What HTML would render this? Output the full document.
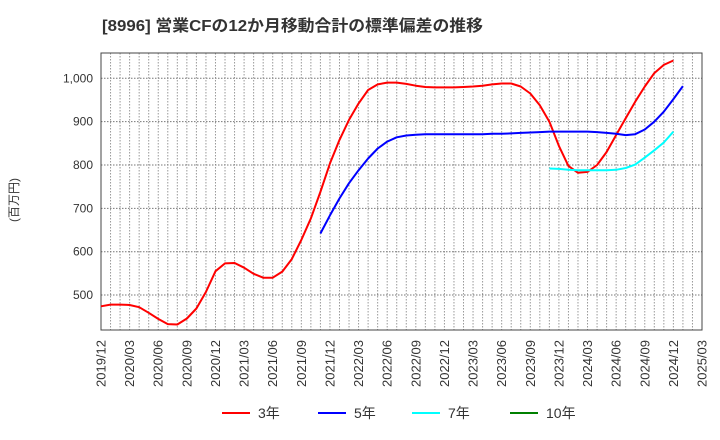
<!DOCTYPE html>
<html><head><meta charset="utf-8"><style>
body{margin:0;background:#fff;}
svg{display:block;font-family:"Liberation Sans","Noto Sans CJK JP",sans-serif;}
</style></head><body>
<svg id="chart" width="720" height="440">
<text x="102" y="31" font-size="16" font-weight="bold" fill="#333" textLength="381" lengthAdjust="spacingAndGlyphs">[8996]  営業CFの12か月移動合計の標準偏差の推移</text>
<text transform="translate(18,200) rotate(-90)" text-anchor="middle" font-size="12" fill="#333">(百万円)</text>
<g id="grid"></g><g id="axes"></g><g id="series"></g><g id="legend"></g>
</svg>
<script>
const yTicks=[500,600,700,800,900,1000];
const yTickLabels=["500","600","700","800","900","1,000"];
const xTickLabels=["2019/12","2020/03","2020/06","2020/09","2020/12","2021/03","2021/06","2021/09","2021/12","2022/03","2022/06","2022/09","2022/12","2023/03","2023/06","2023/09","2023/12","2024/03","2024/06","2024/09","2024/12","2025/03"];
const s3=[474,478,478,477,472,459,445,433,432,446,469,507,555,573,574,563,549,540,540,554,583,627,677,738,804,858,904,942,973,986,990,990,987,983,980,979,979,979,980,981,983,986,988,988,981,965,938,900,844,798,782,784,800,830,869,908,946,981,1012,1031,1041];
const s5Start=23;
const s5=[642,684,723,758,788,815,838,854,864,868,870,871,871,871,871,871,871,871,872,872,873,874,875,876,877,877,877,877,877,876,874,872,869,871,882,900,923,952,982];
const s7Start=47;
const s7=[792,791,789,788,788,788,788,789,793,801,817,834,852,877];
const L=101,R=702,T=53,B=330,NM=63;
const xs=i=>L+(R-L)*i/NM;
const ys=v=>78.3+(1000-v)*0.4335;
const NS="http://www.w3.org/2000/svg";
function mk(tag,attrs,parent){const e=document.createElementNS(NS,tag);for(const k in attrs)e.setAttribute(k,attrs[k]);parent.appendChild(e);return e;}
const grid=document.getElementById('grid'),axes=document.getElementById('axes'),ser=document.getElementById('series'),leg=document.getElementById('legend');
for(let m=1;m<NM;m++){const g=mk('line',{x1:xs(m),x2:xs(m),y1:T,y2:B,stroke:'#999','stroke-dasharray':'1.5,1.5','stroke-width':1},grid);

}
yTicks.forEach((v,i)=>{const g=mk('line',{x1:L,x2:R,y1:ys(v),y2:ys(v),stroke:'#777','stroke-dasharray':'1.5,1.5'},grid);


const t=mk('text',{x:L-8,y:ys(v)+4,'text-anchor':'end','font-size':12,fill:'#333'},axes);t.textContent=yTickLabels[i];

});
xTickLabels.forEach((lab,i)=>{const x=xs(i*3);const t=mk('text',{transform:`translate(${x+4.5},${B+10}) rotate(-90)`,'text-anchor':'end','font-size':13,fill:'#333'},axes);t.textContent=lab;

});
const box=mk('rect',{x:L,y:T,width:R-L,height:B-T,fill:'none',stroke:'#444','stroke-width':1},axes);


function line(arr,start,color,name){const p=arr.map((v,i)=>(i?'L':'M')+xs(start+i).toFixed(1)+','+ys(v).toFixed(1)).join('');
const e=mk('path',{d:p,fill:'none',stroke:color,'stroke-width':2,'stroke-linejoin':'round'},ser);

}
line(s3,0,'#ff0000','series-3y');
line(s5,s5Start,'#0000ff','series-5y');
line(s7,s7Start,'#00ffff','series-7y');
const legItems=[['3年','#ff0000',222],['5年','#0000ff',318],['7年','#00ffff',412],['10年','#008000',510]];
legItems.forEach(([lab,c,x])=>{const g=mk('g',{},leg);


mk('line',{x1:x,x2:x+28,y1:413,y2:413,stroke:c,'stroke-width':2},g);
const t=mk('text',{x:x+36,y:418,'font-size':14,fill:'#333'},g);t.textContent=lab;});
</script>
</body></html>
